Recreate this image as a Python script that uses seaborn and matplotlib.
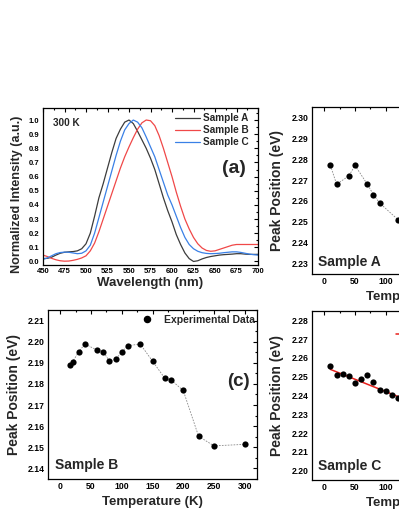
import numpy as np
import matplotlib
matplotlib.use('Agg')
import matplotlib.pyplot as plt
from matplotlib.ticker import MultipleLocator, FormatStrFormatter
from matplotlib.lines import Line2D
import seaborn as sns

# Style
sns.set_style("white")
plt.rcParams['font.family'] = ['Liberation Sans', 'DejaVu Sans']
plt.rcParams['font.weight'] = 'bold'
plt.rcParams['axes.labelweight'] = 'bold'

# (a) normalized PL spectra at 300 K
wavelength = [450, 455, 460, 465, 470, 475, 480, 485, 490, 495,
              500, 505, 510, 515, 520, 525, 530, 535, 540, 545,
              550, 555, 560, 565, 570, 575, 580, 585, 590, 595,
              600, 605, 610, 615, 620, 625, 630, 635, 640, 645,
              650, 655, 660, 665, 670, 675, 680, 685, 690, 695, 700]
int_sample_a = [0.020, 0.022, 0.030, 0.045, 0.058, 0.065, 0.068, 0.070, 0.075, 0.090,
                0.125, 0.200, 0.320, 0.450, 0.550, 0.660, 0.770, 0.870, 0.935, 0.985,
                1.000, 0.975, 0.920, 0.860, 0.800, 0.730, 0.650, 0.550, 0.450, 0.360,
                0.280, 0.190, 0.120, 0.060, 0.020, 0.000, 0.005, 0.018, 0.028, 0.035,
                0.040, 0.045, 0.048, 0.050, 0.052, 0.055, 0.055, 0.052, 0.050, 0.050, 0.050]
int_sample_b = [0.045, 0.035, 0.022, 0.012, 0.005, 0.002, 0.003, 0.008, 0.015, 0.025,
                0.040, 0.075, 0.130, 0.210, 0.300, 0.390, 0.480, 0.570, 0.660, 0.740,
                0.810, 0.875, 0.935, 0.980, 1.000, 0.995, 0.960, 0.890, 0.800, 0.700,
                0.600, 0.490, 0.390, 0.300, 0.230, 0.170, 0.125, 0.095, 0.078, 0.072,
                0.075, 0.085, 0.095, 0.105, 0.115, 0.120, 0.120, 0.120, 0.120, 0.120, 0.120]
int_sample_c = [0.015, 0.025, 0.040, 0.055, 0.063, 0.066, 0.065, 0.060, 0.055, 0.058,
                0.075, 0.115, 0.200, 0.310, 0.420, 0.530, 0.640, 0.750, 0.850, 0.930,
                0.975, 1.000, 0.985, 0.945, 0.880, 0.810, 0.740, 0.650, 0.560, 0.470,
                0.400, 0.320, 0.240, 0.170, 0.120, 0.090, 0.072, 0.062, 0.057, 0.055,
                0.056, 0.058, 0.062, 0.065, 0.068, 0.068, 0.064, 0.058, 0.052, 0.048, 0.045]
spec_labels = ['Sample A', 'Sample B', 'Sample C']
spec_colors = ['#3c3c3c', '#f04848', '#3a80e6']

# (b) Sample A peak position
temp_a = [10, 20, 40, 50, 70, 80, 90, 120]
peak_a = [2.277, 2.268, 2.272, 2.277, 2.268, 2.263, 2.259, 2.251]

# (c) Sample B peak position
temp_b = [15, 20, 30, 40, 60, 70, 80, 90, 100, 110, 130, 150, 170, 180, 200, 225, 250, 300]
peak_b = [2.1892, 2.1905, 2.1952, 2.1989, 2.1960, 2.1952, 2.1908, 2.1916, 2.1952, 2.1981,
          2.1989, 2.1908, 2.1827, 2.1819, 2.1769, 2.1552, 2.1507, 2.1514]

# (d) Sample C peak position + linear fit
temp_c = [10, 20, 30, 40, 50, 60, 70, 80, 90, 100, 110, 120]
peak_c = [2.2555, 2.2510, 2.2512, 2.2503, 2.2464, 2.2489, 2.2507, 2.2473, 2.2430, 2.2425,
          2.2405, 2.2388]
fit_temp_c = [10, 150]
fit_peak_c = [2.2539, 2.2355]

W, H = 399, 516
fig = plt.figure(figsize=(W / 100, H / 100), dpi=100)


def px_axes(x0, y0, x1, y1):
    return fig.add_axes([x0 / W, 1 - y1 / H, (x1 - x0) / W, (y1 - y0) / H])


def style(ax, xmaj, xmin, ymaj, ymin, yfmt, fs):
    ax.xaxis.set_major_locator(MultipleLocator(xmaj))
    ax.xaxis.set_minor_locator(MultipleLocator(xmin))
    ax.yaxis.set_major_locator(MultipleLocator(ymaj))
    ax.yaxis.set_minor_locator(MultipleLocator(ymin))
    ax.yaxis.set_major_formatter(FormatStrFormatter(yfmt))
    ax.tick_params(which='both', direction='in', top=True, right=True,
                   width=0.8, labelsize=fs, pad=2.5, colors='black')
    ax.tick_params(which='major', length=2.6)
    ax.tick_params(which='minor', length=1.5)
    for s in ax.spines.values():
        s.set_linewidth(0.9)
        s.set_color('black')


dot_line = dict(color='#8a8a8a', lw=0.6, linestyle=(0, (2, 1.5)))

# ---- (a)
ax = px_axes(43, 108, 258, 265)
for y, lab, col in zip([int_sample_a, int_sample_b, int_sample_c], spec_labels, spec_colors):
    sns.lineplot(x=wavelength, y=y, color=col, lw=0.9, ax=ax, label=lab)
ax.set_xlim(450, 700)
ax.set_ylim(-0.025, 1.085)
style(ax, 25, 12.5, 0.1, 0.05, '%.1f', 5.5)
ax.set_xlabel('Wavelength (nm)', fontsize=9.5)
ax.set_ylabel('Normalized Intensity (a.u.)', fontsize=9.1)
ax.xaxis.set_label_coords(0.5, -0.075)
ax.yaxis.set_label_coords(-0.095, 0.452)
ax.legend(loc='upper left', bbox_to_anchor=(0.614, 0.965), frameon=False,
          fontsize=7.2, handlelength=2.5, handletextpad=0.3, labelspacing=0.2,
          borderpad=0, borderaxespad=0)
ax.text(0.047, 0.903, '300 K', transform=ax.transAxes, fontsize=7.2, va='center')
ax.text(0.888, 0.616, '(a)', transform=ax.transAxes, fontsize=14, ha='center', va='center')

# ---- (b)
ax = px_axes(312, 107, 521, 274)
sns.lineplot(x=temp_a, y=peak_a, ax=ax, **dot_line)
sns.scatterplot(x=temp_a, y=peak_a, s=20, color='black', linewidth=0, ax=ax, zorder=3)
ax.set_xlim(-20, 320)
ax.set_ylim(2.225, 2.305)
style(ax, 50, 25, 0.01, 0.005, '%.2f', 6.2)
ax.set_xlabel('Temperature (K)', fontsize=9.5)
ax.set_ylabel('Peak Position (eV)', fontsize=10)
ax.xaxis.set_label_coords(0.5, -0.1)
ax.yaxis.set_label_coords(-0.134, 0.5)
ax.text(0.029, 0.074, 'Sample A', transform=ax.transAxes, fontsize=10, va='center')

# ---- (c)
ax = px_axes(48, 310, 257, 479)
sns.lineplot(x=temp_b, y=peak_b, ax=ax, **dot_line)
sns.scatterplot(x=temp_b, y=peak_b, s=20, color='black', linewidth=0, ax=ax, zorder=3)
ax.set_xlim(-20, 320)
ax.set_ylim(2.135, 2.215)
style(ax, 50, 25, 0.01, 0.005, '%.2f', 6.2)
ax.set_xlabel('Temperature (K)', fontsize=9.5)
ax.set_ylabel('Peak Position (eV)', fontsize=10)
ax.xaxis.set_label_coords(0.5, -0.1)
ax.yaxis.set_label_coords(-0.129, 0.5)
exp_handle = Line2D([], [], marker='o', color='black', linestyle='none', markersize=4.4)
ax.legend(handles=[exp_handle], labels=['Experimental Data'], loc='upper left',
          bbox_to_anchor=(0.434, 0.97), frameon=False, fontsize=7.5,
          handlelength=1.6, handletextpad=0.8, borderpad=0, borderaxespad=0)
ax.text(0.033, 0.083, 'Sample B', transform=ax.transAxes, fontsize=10, va='center')
ax.text(0.909, 0.574, '(c)', transform=ax.transAxes, fontsize=13.5, ha='center', va='center')

# ---- (d)
ax = px_axes(312, 311, 521, 480)
sns.scatterplot(x=temp_c, y=peak_c, s=20, color='black', linewidth=0, ax=ax, zorder=3)
sns.lineplot(x=fit_temp_c, y=fit_peak_c, color='#e8201c', lw=1.1, ax=ax)
ax.set_xlim(-20, 320)
ax.set_ylim(2.195, 2.285)
style(ax, 50, 25, 0.01, 0.005, '%.2f', 6.2)
ax.set_xlabel('Temperature (K)', fontsize=9.5)
ax.set_ylabel('Peak Position (eV)', fontsize=10)
ax.xaxis.set_label_coords(0.5, -0.1)
ax.yaxis.set_label_coords(-0.134, 0.5)
fit_handle = Line2D([], [], color='#e8201c', lw=1.1)
ax.legend(handles=[exp_handle, fit_handle], labels=['Experimental Data', 'Linear Fit'],
          loc='upper left', bbox_to_anchor=(0.402, 0.967), frameon=False, fontsize=7.5,
          handlelength=1.6, handletextpad=0.8, labelspacing=0.25,
          borderpad=0, borderaxespad=0)
ax.text(0.029, 0.085, 'Sample C', transform=ax.transAxes, fontsize=10, va='center')

fig.savefig('out.png', dpi=100, facecolor='white')
